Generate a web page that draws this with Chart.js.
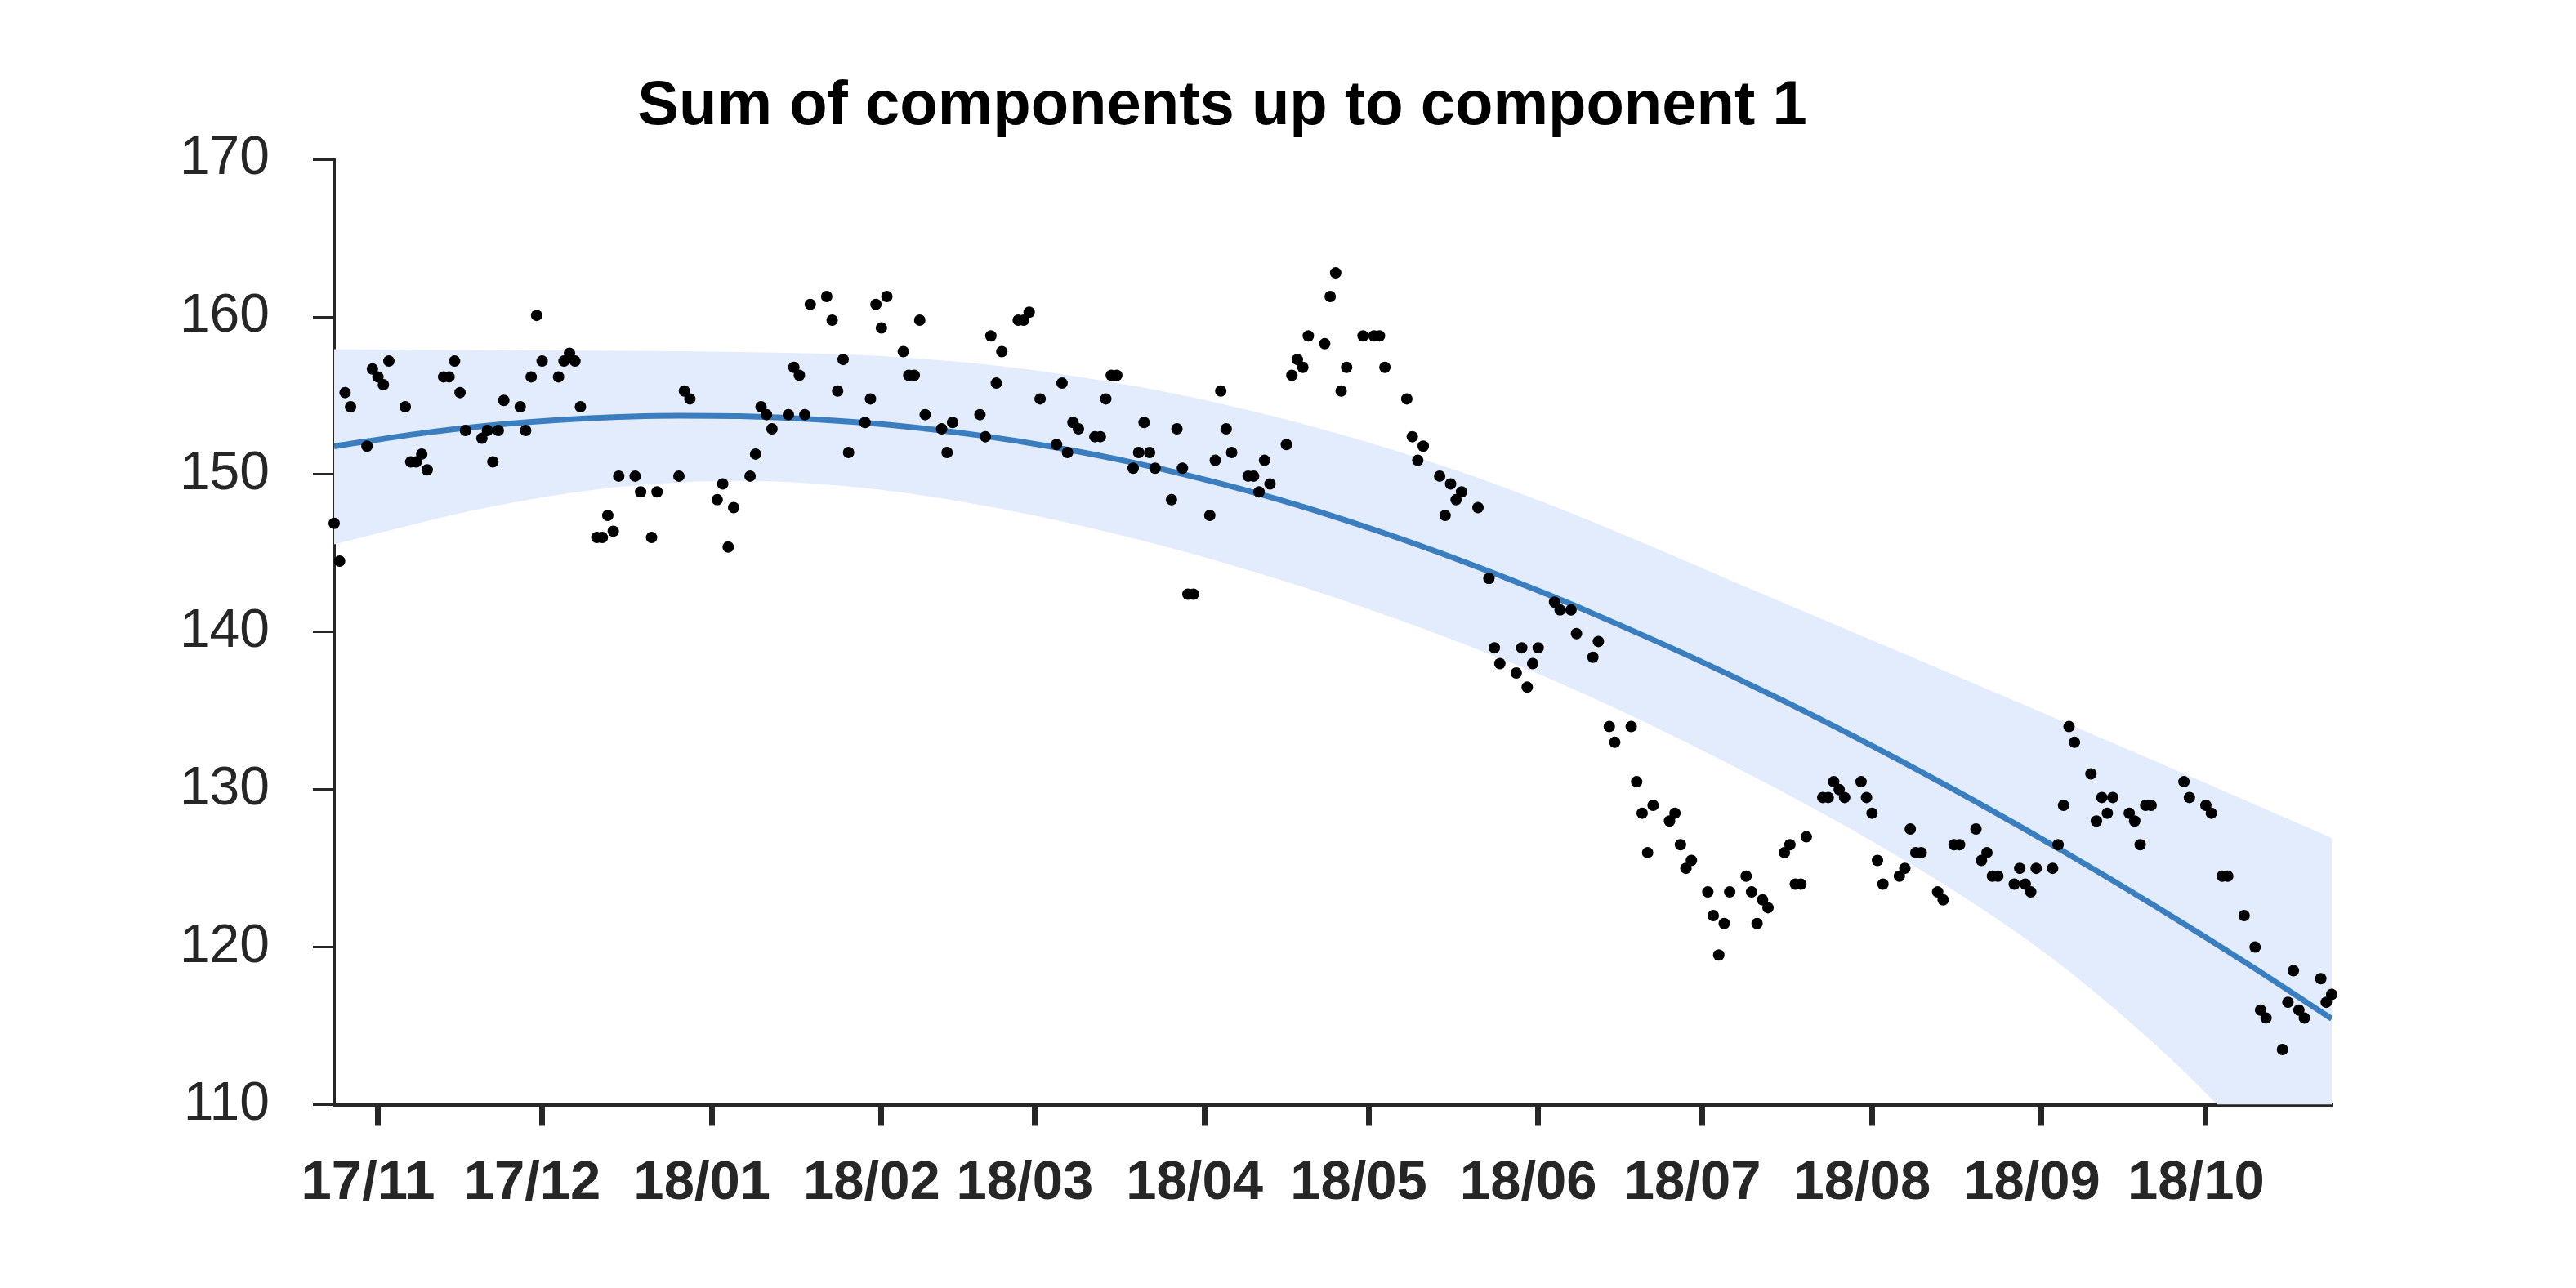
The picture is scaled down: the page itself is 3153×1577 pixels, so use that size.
<!DOCTYPE html>
<html>
<head>
<meta charset="utf-8">
<title>Sum of components up to component 1</title>
<script src="https://cdn.jsdelivr.net/npm/chart.js@4.4.1/dist/chart.umd.min.js"></script>
<style>
  html, body { margin: 0; padding: 0; background: #fff; }
  #wrap { width: 3153px; height: 1577px; position: relative; }
</style>
</head>
<body>
<div id="wrap"><canvas id="chart"></canvas></div>
<script>
// x = days since 2017-10-24 (first observation)
const obsDay = [0,1,2,3,6,7,8,9,10,13,14,15,16,17,20,21,22,23,24,27,28,29,30,31,
  34,35,36,37,38,41,42,43,44,45,48,49,50,51,52,55,56,58,59,63,64,65,70,71,72,73,
  76,77,78,79,80,83,84,85,86,87,90,91,92,93,94,97,98,99,100,101,104,105,106,107,108,
  111,112,113,118,119,120,121,122,125,126,127,129,132,133,134,135,136,139,140,141,142,143,
  146,147,148,149,150,153,154,155,156,157,160,161,162,163,164,167,168,169,170,171,
  174,175,176,177,178,181,182,183,184,185,188,190,191,192,196,197,198,199,
  202,203,204,205,206,209,211,212,213,216,217,218,219,220,223,224,226,227,230,231,233,234,
  237,238,239,240,241,244,245,246,247,248,251,252,253,254,255,258,259,260,261,262,
  265,266,267,268,269,272,273,274,275,276,279,280,281,282,283,286,287,288,289,290,
  293,294,296,297,300,301,302,303,304,307,308,309,310,311,314,315,316,317,318,
  321,322,323,324,325,328,329,330,331,332,338,339,342,343,345,346,349,351,352,353,
  356,357,358,359,360,363,364,365];
const obsValue = [146.9,144.5,155.2,154.3,151.8,156.7,156.2,155.7,157.2,154.3,150.8,150.8,151.3,150.3,
  156.2,156.2,157.2,155.2,152.8,152.3,152.8,150.8,152.8,154.7,
  154.3,152.8,156.2,160.1,157.2,156.2,157.2,157.7,157.2,154.3,146.0,146.0,147.4,146.4,149.9,
  149.9,148.9,146.0,148.9,149.9,155.3,154.8,148.4,149.4,145.4,147.9,
  149.9,151.3,154.3,153.8,152.9,153.8,156.8,156.3,153.8,160.8,161.3,159.8,155.3,157.3,151.4,
  153.3,154.8,160.8,159.3,161.3,157.8,156.3,156.3,159.8,153.8,
  152.9,151.4,153.3,153.8,152.4,158.8,155.8,157.8,159.8,159.8,160.3,154.8,
  151.9,155.8,151.4,153.3,152.9,152.4,152.4,154.8,156.3,156.3,
  150.4,151.4,153.3,151.4,150.4,148.4,152.9,150.4,142.4,142.4,147.4,150.9,155.3,152.9,151.4,
  149.9,149.9,148.9,150.9,149.4,151.9,156.3,157.3,156.8,158.8,158.3,161.3,162.8,155.3,156.8,
  158.8,158.8,158.8,156.8,154.8,152.4,150.9,151.8,
  149.9,147.4,149.4,148.4,148.9,147.9,143.4,139.0,138.0,137.4,139.0,136.5,138.0,139.0,
  141.9,141.4,141.4,139.9,138.4,139.4,134.0,133.0,
  134.0,130.5,128.5,126.0,129.0,128.0,128.5,126.5,125.0,125.5,123.5,122.0,119.5,121.5,123.5,
  124.5,123.5,121.5,123.0,122.5,126.0,126.5,124.0,124.0,127.0,129.5,129.5,130.5,130.0,129.5,
  130.5,129.5,128.5,125.5,124.0,124.5,125.0,127.5,126.0,126.0,
  123.5,123.0,126.5,126.5,127.5,125.5,126.0,124.5,124.5,124.0,125.0,124.0,123.5,125.0,
  125.0,126.5,129.0,134.0,133.0,131.0,128.0,129.5,128.5,129.5,128.5,128.0,126.5,129.0,129.0,
  130.5,129.5,129.0,128.5,124.5,124.5,122.0,120.0,116.0,115.5,
  113.5,116.5,118.5,116.0,115.5,118.0,116.5,117.0];

// fitted curve (component 1)
const fitDay = [0, 15, 29, 44, 63, 74, 88, 103, 118, 132, 147, 162, 176, 191, 206, 221, 230,
  247, 264, 282, 299, 316, 333, 350, 365];
const fitValue = [151.79, 152.57, 153.13, 153.52, 153.73, 153.70, 153.50, 153.10, 152.48, 151.71,
  150.68, 149.42, 148.06, 146.38, 144.52, 142.49, 141.18, 138.57, 135.77, 132.60, 129.42, 126.07,
  122.55, 118.86, 115.45];

// uncertainty band
const upperDay = [0, 44, 74, 88, 103, 118, 132, 147, 162, 176, 191, 206, 221, 234, 264, 299, 333, 365];
const upperValue = [157.96, 157.86, 157.78, 157.68, 157.45, 157.02, 156.42, 155.57, 154.5, 153.3,
  151.83, 150.15, 148.23, 146.41, 141.97, 136.83, 131.76, 126.93];

const lowerDay = [0, 15, 29, 44, 59, 74, 88, 103, 118, 132, 147, 162, 176, 191, 206, 221, 230,
  247, 264, 282, 299, 316, 333, 344, 365];
const lowerValue = [145.56, 146.88, 147.97, 148.87, 149.41, 149.59, 149.42, 148.9, 148.07, 147.09,
  145.86, 144.45, 142.97, 141.21, 139.29, 137.19, 135.82, 133.01, 129.98, 126.51, 122.91, 118.74,
  113.73, 110.04, 102.27];

const monthTickDay = [8, 38, 69, 100, 128, 159, 189, 220, 250, 281, 312, 342];
const monthTickLabel = ['17/11', '17/12', '18/01', '18/02', '18/03', '18/04',
  '18/05', '18/06', '18/07', '18/08', '18/09', '18/10'];

const yTicks = [110, 120, 130, 140, 150, 160, 170];

function toPoints(xs, ys) {
  return xs.map((x, i) => ({ x: x, y: ys[i] }));
}

const axisColor = '#262626';
const bandColor = 'rgb(227, 236, 253)';
const lineColor = '#3a7ebf';

Chart.defaults.font.family = '"Liberation Sans", Arial, Helvetica, sans-serif';

new Chart(document.getElementById('chart'), {
  type: 'line',
  data: {
    datasets: [
      {
        label: 'observed',
        data: toPoints(obsDay, obsValue),
        showLine: false,
        pointRadius: 7,
        pointBackgroundColor: '#000',
        pointBorderWidth: 0,
        clip: false,
        order: 0
      },
      {
        label: 'component 1',
        data: toPoints(fitDay, fitValue),
        borderColor: lineColor,
        borderWidth: 7,
        pointRadius: 0,
        fill: false,
        cubicInterpolationMode: 'monotone',
        order: 1
      },
      {
        label: 'upper',
        data: toPoints(upperDay, upperValue),
        borderWidth: 0,
        pointRadius: 0,
        backgroundColor: bandColor,
        fill: '+1',
        cubicInterpolationMode: 'monotone',
        order: 2
      },
      {
        label: 'lower',
        data: toPoints(lowerDay, lowerValue),
        borderWidth: 0,
        pointRadius: 0,
        fill: false,
        cubicInterpolationMode: 'monotone',
        order: 3
      }
    ]
  },
  options: {
    responsive: true,
    maintainAspectRatio: false,
    animation: false,
    events: [],
    layout: { padding: { left: 138, right: 299, top: 0, bottom: 0 } },
    plugins: {
      legend: { display: false },
      tooltip: { enabled: false },
      title: {
        display: true,
        text: 'Sum of components up to component 1',
        color: '#000',
        font: { size: 76, weight: 'bold' },
        padding: { top: 85, bottom: 19 }
      }
    },
    scales: {
      x: {
        type: 'linear',
        min: 0,
        max: 365,
        afterBuildTicks: (scale) => {
          scale.ticks = monthTickDay.map(v => ({ value: v }));
        },
        afterFit: (scale) => { scale.height = 224.5; },
        border: { color: axisColor, width: 4 },
        grid: {
          drawOnChartArea: false,
          drawTicks: true,
          tickLength: 26,
          tickWidth: 7,
          tickColor: axisColor
        },
        ticks: {
          autoSkip: false,
          maxRotation: 0,
          padding: 31,
          labelOffset: -12,
          color: axisColor,
          font: { size: 67, weight: 'bold' },
          callback: (v) => {
            const i = monthTickDay.indexOf(v);
            return i >= 0 ? monthTickLabel[i] : '';
          }
        }
      },
      y: {
        min: 110,
        max: 170,
        afterBuildTicks: (scale) => {
          scale.ticks = yTicks.map(v => ({ value: v }));
        },
        afterFit: (scale) => { scale.width = 271; },
        border: { color: axisColor, width: 3 },
        grid: {
          drawOnChartArea: false,
          drawTicks: true,
          tickLength: 26,
          tickWidth: 3,
          tickColor: axisColor
        },
        ticks: {
          padding: 53,
          color: axisColor,
          font: { size: 66 }
        }
      }
    }
  }
});
</script>
</body>
</html>
